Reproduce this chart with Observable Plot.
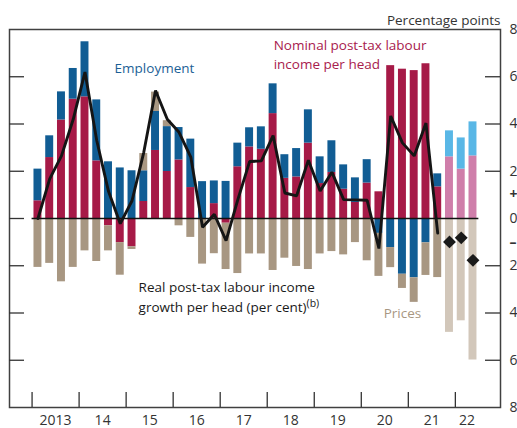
<!DOCTYPE html>
<html>
<head>
<meta charset="utf-8">
<script src="https://cdn.jsdelivr.net/npm/d3@7"></script>
<script src="https://cdn.jsdelivr.net/npm/@observablehq/plot@0.6"></script>
<style>
html, body { margin: 0; padding: 0; background: #fff; }
#chart { width: 517px; height: 428px; overflow: hidden; }
</style>
</head>
<body>
<div id="chart"></div>
<script>
// ---- data ----
const quarters = [
  "2013Q1","2013Q2","2013Q3","2013Q4",
  "2014Q1","2014Q2","2014Q3","2014Q4",
  "2015Q1","2015Q2","2015Q3","2015Q4",
  "2016Q1","2016Q2","2016Q3","2016Q4",
  "2017Q1","2017Q2","2017Q3","2017Q4",
  "2018Q1","2018Q2","2018Q3","2018Q4",
  "2019Q1","2019Q2","2019Q3","2019Q4",
  "2020Q1","2020Q2","2020Q3","2020Q4",
  "2021Q1","2021Q2","2021Q3","2021Q4",
  "2022Q1","2022Q2"
];
const nominal = [
  0.75, 2.58, 4.17, 5.05,
  5.15, 2.44, -0.31, -1.02,
  -1.20, 0.72, 2.88, 1.99,
  2.48, 1.31, 0.00, 0.63,
  -0.20, 2.19, 3.03, 2.93,
  4.44, 1.70, 1.76, 3.19,
  1.48, 1.95, 1.24, 0.68,
  1.50, 1.13, 6.47, 6.32,
  6.26, 6.55, 1.34, 2.61,
  2.09, 2.65
];
const employment = [
  1.34, 0.92, 1.19, 1.30,
  2.33, 2.58, 2.40, 2.14,
  2.02, 1.30, 1.65, 1.90,
  1.37, 2.05, 1.56, 0.96,
  1.57, 1.00, 0.81, 0.95,
  1.26, 1.00, 1.20, 1.41,
  1.13, 1.34, 1.03, 1.04,
  0.99, -0.63, -1.23, -2.36,
  -2.51, -1.03, 0.55, 1.10,
  1.32, 1.44
];
const prices = [
  -2.07, -1.90, -2.68, -2.07,
  -1.37, -1.82, -1.06, -1.38,
  -0.11, 0.73, 0.82, 0.25,
  -0.31, -0.80, -1.93, -1.49,
  -1.96, -2.33, -1.50, -1.50,
  -2.20, -1.68, -2.03, -2.16,
  -1.50, -1.40, -1.54, -1.02,
  -1.79, -1.82, -0.85, -0.60,
  -1.04, -1.38, -2.50, -4.82,
  -4.33, -5.99
];
// Real post-tax labour income growth per head (per cent): outturns
const realQuarters = quarters.slice(0, 35);
const realGrowth = [
  0.00, 1.68, 2.65, 4.20,
  6.20, 3.30, 1.15, -0.22,
  0.75, 2.80, 5.42, 4.20,
  3.65, 2.60, -0.37, 0.18,
  -0.94, 0.80, 2.41, 2.44,
  3.51, 1.08, 0.96, 2.47,
  1.16, 1.96, 0.80, 0.79,
  0.77, -1.27, 4.34, 3.20,
  2.65, 4.04, -0.62
];
// projections (diamonds)
const projQuarters = ["2021Q4", "2022Q1", "2022Q2"];
const projReal = [-0.99, -0.82, -1.77];
const firstProjection = "2021Q4";

const seriesNames = ["nominal", "employment", "prices"];
const yearLabels = ["2013","14","15","16","17","18","19","20","21","22"];
const yAxisTicks = [8, 6, 4, 2, 0, -2, -4, -6, -8];

// ---- helpers ----
const qTime = q => +q.slice(0, 4) + (+q.slice(5) - 0.5) / 4;   // quarter centre in years
const series = {nominal, employment, prices};

const rows = [];
quarters.forEach((q, i) => {
  const t = qTime(q);
  const proj = quarters.indexOf(firstProjection) <= i;
  let pos = 0, neg = 0;
  seriesNames.forEach(s => {
    const v = series[s][i];
    let y1, y2;
    if (v >= 0) { y1 = pos; y2 = pos + v; pos = y2; }
    else { y1 = neg; y2 = neg + v; neg = y2; }
    rows.push({t, key: s + (proj ? "-proj" : ""), y1, y2});
  });
});
const realData = realQuarters.map((q, i) => ({t: qTime(q), v: realGrowth[i]}));
const diamondData = projQuarters.map((q, i) => ({t: qTime(q), v: projReal[i]}));

const firstYear = +quarters[0].slice(0, 4);
const yearTicks = d3.range(firstYear, +quarters[quarters.length - 1].slice(0, 4) + 1);
const yearLabelData = yearTicks.map((y, i) => {
  const qs = quarters.filter(q => +q.slice(0, 4) === y).map(qTime);
  return {x: (d3.min(qs) - 0.125 + d3.max(qs) + 0.125) / 2, label: yearLabels[i]};
});
const dataStart = qTime(quarters[0]) - 0.125;
const dataEnd = qTime(quarters[quarters.length - 1]) + 0.125;

const X0 = 2012.52, X1 = 2022.96;
const pxPerYear = 491 / (X1 - X0);
const pxPerUnit = 378 / 16;
const tickLenX = 15 / pxPerYear;
const tickLenY = 15 / pxPerUnit;

const colorKeys = ["nominal", "employment", "prices", "nominal-proj", "employment-proj", "prices-proj"];
const colorRange = ["#a61a47", "#115d94", "#a89782", "#cf7eaa", "#59b7e6", "#d2c7ba"];

const chart = Plot.plot({
  width: 517,
  height: 428,
  marginLeft: 9,
  marginRight: 17,
  marginTop: 29,
  marginBottom: 21,
  x: {domain: [X0, X1], axis: null},
  y: {domain: [-8, 8], axis: null},
  color: {domain: colorKeys, range: colorRange},
  style: {fontFamily: "'Open Sans', sans-serif", fontSize: "13.5px", background: "#fff", color: "#333", overflow: "hidden"},
  marks: [
    Plot.rect(rows, {x1: d => d.t - 0.125, x2: d => d.t + 0.125, y1: "y1", y2: "y2", fill: "key", insetLeft: 1.9, insetRight: 1.9}),
    Plot.ruleY([0], {x1: dataStart, x2: dataEnd, stroke: "#111", strokeWidth: 1.4}),
    Plot.line(realData, {x: "t", y: "v", stroke: "#151515", strokeWidth: 2.9, strokeLinejoin: "miter"}),
    Plot.dot(diamondData, {x: "t", y: "v", symbol: "diamond2", r: 5.8, fill: "#1a1a1a", stroke: "none"}),
    // frame and ticks
    Plot.frame({stroke: "#404040", strokeWidth: 1.5}),
    Plot.ruleY([6, 4, 2, 0, -2, -4, -6], {x1: X0, x2: X0 + tickLenX, stroke: "#333", strokeWidth: 1.3}),
    Plot.ruleY([6, 4, 2, -2, -4, -6], {x1: X1 - tickLenX, x2: X1, stroke: "#333", strokeWidth: 1.3}),
    Plot.ruleX(yearTicks, {y1: -8, y2: -8 + tickLenY, stroke: "#333", strokeWidth: 1.3}),
    // axis labels
    Plot.text(yAxisTicks, {x: X1, y: d => d, dx: 9, text: d => String(Math.abs(d)), textAnchor: "start", fontSize: 14, fill: "#333"}),
    Plot.text([{v: 1, s: "+"}, {v: -1, s: "\u2013"}], {x: X1, y: "v", dx: 9, text: "s", textAnchor: "start", fontSize: 14, fontWeight: "bold", fill: "#333"}),
    Plot.text(yearLabelData, {x: "x", y: -8, dy: 13, text: "label", fontSize: 14, fill: "#333"}),
    Plot.text(["Percentage points"], {frameAnchor: "top-right", dy: -14, text: d => d, textAnchor: "end", fill: "#333"}),
    // annotations
    Plot.text(["Employment"], {x: 2014.755, y: 6.35, text: d => d, textAnchor: "start", fill: "#1c5f96"}),
    Plot.text(["Nominal post-tax labour\nincome per head"], {x: 2018.137, y: 7.0, text: d => d, textAnchor: "start", lineHeight: 1.4, fill: "#a8204d"}),
    Plot.text(["Real post-tax labour income\ngrowth per head (per cent)"], {x: 2015.265, y: -3.26, text: d => d, textAnchor: "start", lineHeight: 1.45, fill: "#1a1a1a"}),
    Plot.text(["Prices"], {x: 2020.477, y: -4.02, text: d => d, textAnchor: "start", fill: "#a89782"})
  ]
});

// superscript footnote marker
chart.querySelectorAll("tspan, text").forEach(el => {
  if (el.children.length === 0 && el.textContent === "growth per head (per cent)") {
    const ns = "http://www.w3.org/2000/svg";
    const sup = document.createElementNS(ns, "tspan");
    sup.setAttribute("dy", "-0.45em");
    sup.setAttribute("font-size", "10.5");
    sup.textContent = "(b)";
    el.parentNode.insertBefore(sup, el.nextSibling);
  }
});

document.getElementById("chart").appendChild(chart);
</script>
</body>
</html>
